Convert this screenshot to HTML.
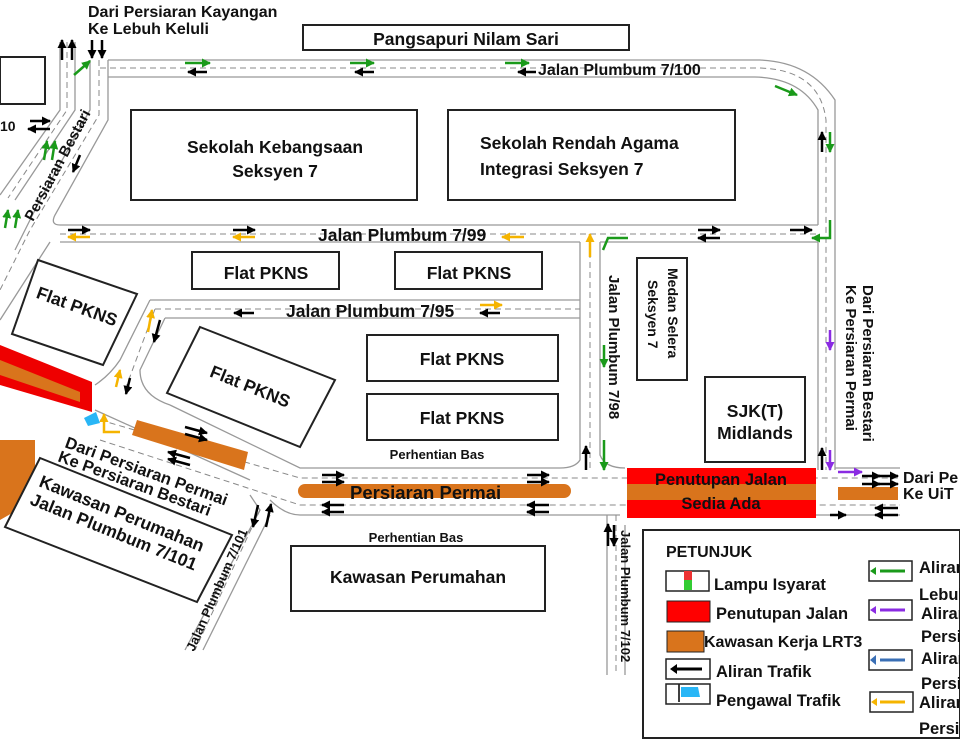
<!DOCTYPE html>
<html><head><meta charset="utf-8"><style>
html,body{margin:0;padding:0;background:#fff}
svg{display:block}
text{font-family:"Liberation Sans",Arial,sans-serif;font-weight:bold;fill:#111}
</style></head><body>
<svg width="960" height="750" viewBox="0 0 960 750" xmlns="http://www.w3.org/2000/svg">
<defs>
<marker id="ah" markerUnits="userSpaceOnUse" markerWidth="9" markerHeight="9" refX="8" refY="4.5" orient="auto"><path d="M0,0 L9,4.5 L0,9 z" fill="#000"/></marker>
<marker id="ag" markerUnits="userSpaceOnUse" markerWidth="9" markerHeight="9" refX="8" refY="4.5" orient="auto"><path d="M0,0 L9,4.5 L0,9 z" fill="#1a9a1a"/></marker>
<marker id="ay" markerUnits="userSpaceOnUse" markerWidth="9" markerHeight="9" refX="8" refY="4.5" orient="auto"><path d="M0,0 L9,4.5 L0,9 z" fill="#f5b400"/></marker>
<marker id="ap" markerUnits="userSpaceOnUse" markerWidth="9" markerHeight="9" refX="8" refY="4.5" orient="auto"><path d="M0,0 L9,4.5 L0,9 z" fill="#8a2be2"/></marker>
</defs>
<g fill="none" stroke="#999" stroke-width="1.3">
<path d="M108,60 L760,60 Q810,62 835,100 L835,470"/>
<path d="M108,77 L755,77 Q800,78 818,110 L818,225"/>
<path d="M818,242 L818,470"/>
<path d="M60,42 L60,110 L0,195"/>
<path d="M75,42 L75,110 L15,200"/>
<path d="M90,60 L90,110 L40,200 L15,250"/>
<path d="M108,60 L108,120 L55,215 Q50,225 60,225"/>
<path d="M60,225 L818,225"/>
<path d="M60,242 L580,242 M600,242 L818,242"/>
<path d="M50,242 L0,320"/>
<path d="M580,242 L580,460 Q575,468 560,468"/>
<path d="M600,242 L600,455 Q605,468 625,468"/>
<path d="M150,300 L580,300"/>
<path d="M165,318 L580,318"/>
<path d="M150,300 L120,360 Q110,375 95,385"/>
<path d="M165,318 L140,370 Q140,395 170,405"/>
<path d="M170,405 L300,468 L560,468"/>
<path d="M95,410 L250,480"/>
<path d="M270,500 Q285,515 300,515 L620,515 M630,515 L900,515"/>
<path d="M835,468 L900,468"/>
<path d="M250,495 L260,510 L185,650"/>
<path d="M270,515 L203,650"/>
<path d="M607,515 L607,675"/>
<path d="M625,525 L625,675"/>
</g>
<g fill="none" stroke="#888" stroke-width="1" stroke-dasharray="6,4">
<path d="M100,68 L760,68 Q820,70 826,120 L826,470"/>
<path d="M67,42 L67,110 L8,198"/>
<path d="M99,60 L99,115 L30,230 L0,290"/>
<path d="M60,234 L818,234"/>
<path d="M590,242 L590,468"/>
<path d="M155,309 L580,309"/>
<path d="M155,309 L125,390"/>
<path d="M100,420 L300,478 L900,478"/>
<path d="M100,440 L300,505 L900,505"/>
<path d="M616,515 L616,675"/>
<path d="M260,510 L195,650"/>
</g>
<polygon points="0,345 92,382 92,412 0,385" fill="#e00"/>
<polygon points="0,360 80,392 80,402 0,375" fill="#d9741c"/>
<polygon points="0,440 35,440 35,500 0,520" fill="#d9741c"/>
<polygon points="137,420 248,452 244,470 132,435" fill="#d9741c"/>
<rect x="298" y="484" width="273" height="14" rx="7" fill="#d9741c"/>
<rect x="627" y="468" width="189" height="50" fill="#f00"/>
<rect x="627" y="484" width="189" height="16" fill="#d9741c"/>
<rect x="838" y="487" width="60" height="13" fill="#d9741c"/>
<g fill="#fff" stroke="#222" stroke-width="2">
<rect x="0" y="57" width="45" height="47"/>
<rect x="303" y="25" width="326" height="25"/>
<rect x="131" y="110" width="286" height="90"/>
<rect x="448" y="110" width="287" height="90"/>
<rect x="192" y="252" width="147" height="37"/>
<rect x="395" y="252" width="147" height="37"/>
<rect x="637" y="258" width="50" height="122"/>
<rect x="367" y="335" width="191" height="46"/>
<rect x="367" y="394" width="191" height="46"/>
<rect x="705" y="377" width="100" height="85"/>
<rect x="291" y="546" width="254" height="65"/>
<polygon points="38,260 137,294 103,365 12,334"/>
<polygon points="200,327 335,380 300,447 167,393"/>
<polygon points="40,458 232,535 197,602 5,527"/>
<rect x="643" y="530" width="317" height="208"/>
</g>
<g font-size="16">
<text x="88" y="17">Dari Persiaran Kayangan</text>
<text x="88" y="34">Ke Lebuh Keluli</text>
<text x="466" y="45" text-anchor="middle" font-size="17.5">Pangsapuri Nilam Sari</text>
<text x="538" y="75">Jalan Plumbum 7/100</text>
<text x="275" y="153" text-anchor="middle" font-size="17.5">Sekolah Kebangsaan</text>
<text x="275" y="177" text-anchor="middle" font-size="17.5">Seksyen 7</text>
<text x="480" y="149" font-size="17.5">Sekolah Rendah Agama</text>
<text x="480" y="175" font-size="17.5">Integrasi Seksyen 7</text>
<text x="318" y="241" font-size="17.5">Jalan Plumbum 7/99</text>
<text x="266" y="279" text-anchor="middle" font-size="17.5">Flat PKNS</text>
<text x="469" y="279" text-anchor="middle" font-size="17.5">Flat PKNS</text>
<text x="286" y="317" font-size="17.5">Jalan Plumbum 7/95</text>
<text x="462" y="365" text-anchor="middle" font-size="17.5">Flat PKNS</text>
<text x="462" y="424" text-anchor="middle" font-size="17.5">Flat PKNS</text>
<text x="755" y="417" text-anchor="middle" font-size="17.5">SJK(T)</text>
<text x="755" y="439" text-anchor="middle" font-size="17.5">Midlands</text>
<text x="437" y="459" text-anchor="middle" font-size="13">Perhentian Bas</text>
<text x="416" y="542" text-anchor="middle" font-size="13">Perhentian Bas</text>
<text x="350" y="499" font-size="18.5">Persiaran Permai</text>
<text x="721" y="485" text-anchor="middle" font-size="16.5">Penutupan Jalan</text>
<text x="721" y="509" text-anchor="middle" font-size="16.5">Sedia Ada</text>
<text x="903" y="483">Dari Pe</text>
<text x="903" y="499">Ke UiT</text>
<text x="418" y="583" text-anchor="middle" font-size="17.5">Kawasan Perumahan</text>
<text transform="translate(75,312) rotate(20)" text-anchor="middle" font-size="17.5">Flat PKNS</text>
<text transform="translate(248,392) rotate(22)" text-anchor="middle" font-size="17.5">Flat PKNS</text>
<text transform="translate(38,486) rotate(22)" font-size="17.5">Kawasan Perumahan</text>
<text transform="translate(29,504) rotate(22)" font-size="17.5">Jalan Plumbum 7/101</text>
<text transform="translate(64,447) rotate(20)" font-size="16.5">Dari Persiaran Permai</text>
<text transform="translate(57,461) rotate(20)" font-size="16.5">Ke Persiaran Bestari</text>
<text transform="translate(33,222) rotate(-62)" font-size="15">Persiaran Bestari</text>
<text transform="translate(194,652) rotate(-66)" font-size="13">Jalan Plumbum 7/101</text>
<text transform="translate(609,275) rotate(90)" font-size="15">Jalan Plumbum 7/98</text>
<text transform="translate(668,268) rotate(90)" font-size="14">Medan Selera</text>
<text transform="translate(648,280) rotate(90)" font-size="14">Seksyen 7</text>
<text transform="translate(621,530) rotate(90)" font-size="13">Jalan Plumbum 7/102</text>
<text transform="translate(863,285) rotate(90)" font-size="15">Dari Persiaran Bestari</text>
<text transform="translate(846,285) rotate(90)" font-size="15">Ke Persiaran Permai</text>
<text x="0" y="131" font-size="14">10</text>
</g>
<g stroke="#000" stroke-width="2.5" marker-end="url(#ah)">
<line x1="62" y1="60" x2="62" y2="40"/><line x1="72" y1="60" x2="72" y2="40"/>
<line x1="92" y1="40" x2="92" y2="58"/><line x1="102" y1="40" x2="102" y2="58"/>
<line x1="374" y1="72" x2="355" y2="72"/><line x1="536" y1="72" x2="518" y2="72"/><line x1="207" y1="72" x2="188" y2="72"/>
<line x1="30" y1="121" x2="50" y2="121"/><line x1="50" y1="129" x2="28" y2="129"/>
<line x1="80" y1="155" x2="73" y2="172"/>
<line x1="68" y1="230" x2="90" y2="230"/><line x1="233" y1="230" x2="255" y2="230"/>
<line x1="698" y1="230" x2="720" y2="230"/><line x1="720" y1="238" x2="698" y2="238"/>
<line x1="790" y1="230" x2="812" y2="230"/>
<line x1="254" y1="313" x2="234" y2="313"/><line x1="500" y1="313" x2="480" y2="313"/>
<line x1="822" y1="152" x2="822" y2="132"/>
<line x1="822" y1="470" x2="822" y2="448"/>
<line x1="586" y1="470" x2="586" y2="446"/>
<line x1="160" y1="320" x2="154" y2="342"/>
<line x1="130" y1="378" x2="126" y2="394"/>
<line x1="185" y1="427" x2="207" y2="433"/><line x1="185" y1="434" x2="207" y2="440"/>
<line x1="190" y1="458" x2="168" y2="452"/><line x1="190" y1="465" x2="168" y2="459"/>
<line x1="322" y1="475" x2="344" y2="475"/><line x1="322" y1="482" x2="344" y2="482"/>
<line x1="344" y1="505" x2="322" y2="505"/><line x1="344" y1="512" x2="322" y2="512"/>
<line x1="527" y1="475" x2="549" y2="475"/><line x1="527" y1="482" x2="549" y2="482"/>
<line x1="549" y1="505" x2="527" y2="505"/><line x1="549" y1="512" x2="527" y2="512"/>
<line x1="862" y1="476" x2="880" y2="476"/><line x1="878" y1="476" x2="898" y2="476"/>
<line x1="862" y1="484" x2="880" y2="484"/><line x1="878" y1="484" x2="898" y2="484"/>
<line x1="898" y1="508" x2="875" y2="508"/><line x1="898" y1="515" x2="875" y2="515"/>
<line x1="614" y1="525" x2="614" y2="546"/><line x1="608" y1="546" x2="608" y2="524"/>
<line x1="258" y1="505" x2="253" y2="527"/><line x1="266" y1="527" x2="271" y2="504"/>
<line x1="830" y1="515" x2="846" y2="515"/>
</g>
<g stroke-width="2.5">
<line x1="185" y1="63" x2="210" y2="63" stroke="#1a9a1a" marker-end="url(#ag)"/>
<line x1="350" y1="63" x2="374" y2="63" stroke="#1a9a1a" marker-end="url(#ag)"/>
<line x1="505" y1="63" x2="529" y2="63" stroke="#1a9a1a" marker-end="url(#ag)"/>
<line x1="775" y1="86" x2="797" y2="95" stroke="#1a9a1a" marker-end="url(#ag)"/>
<line x1="74" y1="75" x2="90" y2="61" stroke="#1a9a1a" marker-end="url(#ag)"/>
<line x1="44" y1="160" x2="47" y2="141" stroke="#1a9a1a" marker-end="url(#ag)"/>
<line x1="52" y1="160" x2="55" y2="141" stroke="#1a9a1a" marker-end="url(#ag)"/>
<line x1="5" y1="228" x2="8" y2="210" stroke="#1a9a1a" marker-end="url(#ag)"/>
<line x1="15" y1="228" x2="18" y2="210" stroke="#1a9a1a" marker-end="url(#ag)"/>
<line x1="830" y1="132" x2="830" y2="152" stroke="#1a9a1a" marker-end="url(#ag)"/>
<line x1="604" y1="440" x2="604" y2="470" stroke="#1a9a1a" marker-end="url(#ag)"/>
<line x1="604" y1="345" x2="604" y2="367" stroke="#1a9a1a" marker-end="url(#ag)"/>
<polyline points="830,220 830,238 812,238" fill="none" stroke="#1a9a1a" marker-end="url(#ag)"/>
<polyline points="628,238 608,238 603,250" fill="none" stroke="#1a9a1a"/>
<line x1="90" y1="237" x2="68" y2="237" stroke="#f5b400" marker-end="url(#ay)"/>
<line x1="255" y1="237" x2="233" y2="237" stroke="#f5b400" marker-end="url(#ay)"/>
<line x1="524" y1="237" x2="502" y2="237" stroke="#f5b400" marker-end="url(#ay)"/>
<line x1="590" y1="257" x2="590" y2="234" stroke="#f5b400" marker-end="url(#ay)"/>
<line x1="480" y1="305" x2="502" y2="305" stroke="#f5b400" marker-end="url(#ay)"/>
<line x1="148" y1="332" x2="152" y2="310" stroke="#f5b400" marker-end="url(#ay)"/>
<line x1="116" y1="387" x2="120" y2="370" stroke="#f5b400" marker-end="url(#ay)"/>
<polyline points="120,432 104,432 104,414" fill="none" stroke="#f5b400" marker-end="url(#ay)"/>
<line x1="830" y1="330" x2="830" y2="350" stroke="#8a2be2" marker-end="url(#ap)"/>
<line x1="830" y1="450" x2="830" y2="470" stroke="#8a2be2" marker-end="url(#ap)"/>
<line x1="838" y1="472" x2="862" y2="472" stroke="#8a2be2" marker-end="url(#ap)"/>
</g>
<polygon points="84,418 96,412 100,423 88,426" fill="#29b6f6"/>
<text x="666" y="557" font-size="16">PETUNJUK</text>
<g fill="#fff" stroke="#222" stroke-width="1.5">
<rect x="666" y="571" width="43" height="20"/>
<rect x="869" y="561" width="43" height="20"/>
<rect x="869" y="600" width="43" height="20"/>
<rect x="869" y="650" width="43" height="20"/>
<rect x="870" y="692" width="43" height="20"/>
</g>
<rect x="684" y="571" width="8" height="19" fill="#e33"/><rect x="684" y="580" width="8" height="10" fill="#3c3"/>
<rect x="667" y="601" width="43" height="21" fill="#f00" stroke="#222"/>
<rect x="667" y="631" width="37" height="21" fill="#d9741c" stroke="#222"/>
<rect x="666" y="659" width="44" height="20" fill="#fff" stroke="#222" stroke-width="1.5"/>
<line x1="679" y1="684" x2="679" y2="702" stroke="#000" stroke-width="1.5"/>
<polygon points="681,687 698,687 700,697 681,697" fill="#29b6f6"/>
<rect x="666" y="684" width="44" height="20" fill="none" stroke="#222" stroke-width="1.5"/>
<g font-size="16.5" font-weight="normal">
<text x="714" y="590">Lampu Isyarat</text>
<text x="716" y="619">Penutupan Jalan</text>
<text x="704" y="647" font-size="16">Kawasan Kerja LRT3</text>
<text x="716" y="677">Aliran Trafik</text>
<text x="716" y="706">Pengawal Trafik</text>
<text x="919" y="573">Aliran</text><text x="919" y="600">Lebuh</text>
<text x="921" y="619">Aliran</text><text x="921" y="642">Persi</text>
<text x="921" y="664">Aliran</text><text x="921" y="689">Persi</text>
<text x="919" y="708">Aliran</text><text x="919" y="734">Persi</text>
</g>
<g stroke-width="3">
<line x1="905" y1="571" x2="880" y2="571" stroke="#1a9a1a"/>
<line x1="905" y1="610" x2="880" y2="610" stroke="#8a2be2"/>
<line x1="905" y1="660" x2="880" y2="660" stroke="#3a6fb5"/>
<line x1="905" y1="702" x2="880" y2="702" stroke="#f5b400"/>
<line x1="702" y1="669" x2="676" y2="669" stroke="#000"/>
</g>
<g>
<polygon points="876,567 876,575 870,571" fill="#1a9a1a"/>
<polygon points="876,606 876,614 870,610" fill="#8a2be2"/>
<polygon points="876,655 876,665 870,660" fill="#3a6fb5"/>
<polygon points="877,698 877,706 871,702" fill="#f5b400"/>
<polygon points="677,664 677,674 670,669" fill="#000"/>
</g>
</svg>
</body></html>
